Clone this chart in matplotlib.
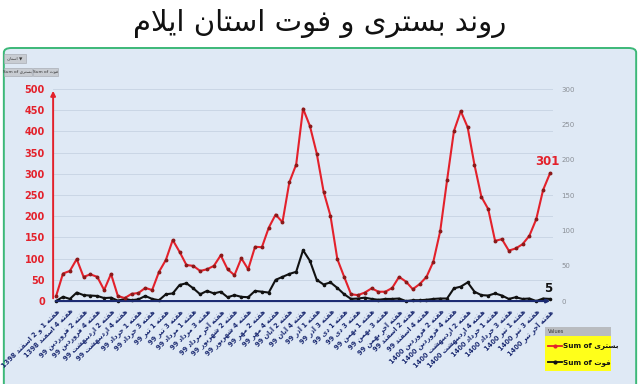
import matplotlib
matplotlib.use("Agg")
import matplotlib.pyplot as plt
from matplotlib.patches import FancyBboxPatch, Rectangle
from matplotlib.lines import Line2D

# --- data (weekly values) ---
bastari = [12, 65, 71, 99, 57, 63, 57, 26, 64, 12, 7, 17, 19, 31, 26, 69, 97, 144, 116, 85,
           83, 71, 75, 83, 108, 75, 61, 101, 75, 128, 127, 173, 204, 186, 280, 322, 454, 413,
           348, 258, 201, 99, 57, 16, 14, 20, 30, 22, 22, 31, 57, 46, 28, 40, 57, 93, 165, 285,
           401, 448, 410, 321, 246, 217, 142, 146, 119, 124, 134, 154, 193, 262, 301]
fot = [0, 10, 5, 20, 14, 13, 12, 7, 8, 1, 5, 2, 4, 12, 5, 2, 16, 18, 38, 42, 30, 16, 24, 18,
       22, 9, 14, 10, 9, 24, 22, 20, 50, 57, 64, 69, 120, 95, 50, 39, 44, 31, 16, 5, 6, 8, 5,
       3, 5, 5, 6, 0, 2, 2, 3, 5, 6, 6, 30, 34, 44, 22, 14, 13, 18, 13, 5, 9, 5, 6, 0, 6, 5]

week_labels = [
    "هفته 1 و 2 اسفند 1398", "هفته 4 اسفند 1398", "هفته 2 فروردین 99", "هفته 4 فروردین 99",
    "هفته 2 اردیبهشت 99", "هفته 4 اردیبهشت 99", "هفته 1 خرداد 99", "هفته 3 خرداد 99",
    "هفته 1 تیر 99", "هفته 3 تیر 99", "هفته 1 مرداد 99", "هفته 3 مرداد 99",
    "هفته آخر مرداد 99", "هفته 2 شهریور 99", "هفته 4 شهریور 99", "هفته 2 مهر 99",
    "هفته 4 مهر 99", "هفته 2 آبان 99", "هفته 4 آبان 99", "هفته 1 آذر 99", "هفته 3 آذر 99",
    "هفته 1 دی 99", "هفته 3 دی 99", "هفته 1 بهمن 99", "هفته 3 بهمن 99", "هفته آخر بهمن 99",
    "هفته 2 اسفند 99", "هفته 4 اسفند 99", "هفته 2 فروردین 1400", "هفته 4 فروردین 1400",
    "هفته 2 اردیبهشت 1400", "هفته 4 اردیبهشت 1400", "هفته 1 خرداد 1400",
    "هفته 3 خرداد 1400", "هفته 1 تیر 1400", "هفته 3 تیر 1400", "هفته آخر تیر 1400"]

title = "روند بستری و فوت استان ایلام"
name_b = "بستری"
name_f = "فوت"

# --- tiny persian shaper (matplotlib has no arabic shaping / bidi) ---
FORMS = {
    'ا': ('\uFE8D', '\uFE8E'), 'آ': ('\uFE81', '\uFE82'),
    'د': ('\uFEA9', '\uFEAA'), 'ذ': ('\uFEAB', '\uFEAC'),
    'ر': ('\uFEAD', '\uFEAE'), 'و': ('\uFEED', '\uFEEE'),
    'ب': ('\uFE8F', '\uFE90', '\uFE91', '\uFE92'),
    'ت': ('\uFE95', '\uFE96', '\uFE97', '\uFE98'),
    'خ': ('\uFEA5', '\uFEA6', '\uFEA7', '\uFEA8'),
    'س': ('\uFEB1', '\uFEB2', '\uFEB3', '\uFEB4'),
    'ش': ('\uFEB5', '\uFEB6', '\uFEB7', '\uFEB8'),
    'ف': ('\uFED1', '\uFED2', '\uFED3', '\uFED4'),
    'ق': ('\uFED5', '\uFED6', '\uFED7', '\uFED8'),
    'ل': ('\uFEDD', '\uFEDE', '\uFEDF', '\uFEE0'),
    'م': ('\uFEE1', '\uFEE2', '\uFEE3', '\uFEE4'),
    'ن': ('\uFEE5', '\uFEE6', '\uFEE7', '\uFEE8'),
    'ه': ('\uFEE9', '\uFEEA', '\uFEEB', '\uFEEC'),
    'ی': ('\uFBFC', '\uFBFD', '\uFBFE', '\uFBFF'),
}


def shape_word(w):
    out = []
    i = 0
    prev_joins = False
    while i < len(w):
        c = w[i]
        f = FORMS.get(c)
        if f is None:
            out.append(c)
            prev_joins = False
            i += 1
            continue
        if c == 'ل' and i + 1 < len(w) and w[i + 1] in 'اآ':
            lig = ('\uFEFB', '\uFEFC') if w[i + 1] == 'ا' else ('\uFEF5', '\uFEF6')
            out.append(lig[1] if prev_joins else lig[0])
            prev_joins = False
            i += 2
            continue
        next_ok = len(f) == 4 and i + 1 < len(w) and w[i + 1] in FORMS
        if len(f) == 2:
            out.append(f[1] if prev_joins else f[0])
            prev_joins = False
        else:
            if prev_joins and next_ok:
                out.append(f[3])
            elif prev_joins:
                out.append(f[1])
            elif next_ok:
                out.append(f[2])
            else:
                out.append(f[0])
            prev_joins = next_ok
        i += 1
    return ''.join(out)[::-1]


def fa(text):
    toks = text.split(' ')
    vis = [t if t.isdigit() else shape_word(t) for t in toks]
    return ' '.join(vis[::-1])


red = '#e3212b'
navy = '#1c2b72'
bg = '#dfe9f5'

fig = plt.figure(figsize=(6.4, 3.84), dpi=100)
fig.patch.set_facecolor('white')

box = FancyBboxPatch((0.006, -0.05), 0.988, 0.925, boxstyle="round,pad=0,rounding_size=0.012",
                     transform=fig.transFigure, facecolor=bg, edgecolor='#3cb878', lw=1.4,
                     zorder=-10)
fig.patches.append(box)

fig.text(0.5, 0.94, fa(title), ha='center', va='center', fontsize=21, color='#111111',
         family='DejaVu Sans')

# little pivot buttons at top left
for (x0, y0, w, h, s) in [(0.006, 0.835, 0.034, 0.024, fa("استان") + " ▼"),
                          (0.006, 0.802, 0.044, 0.022, "Sum of " + fa(name_b)),
                          (0.052, 0.802, 0.038, 0.022, "Sum of " + fa(name_f))]:
    fig.patches.append(Rectangle((x0, y0), w, h, transform=fig.transFigure,
                                 facecolor='#c8ccd2', edgecolor='#a0a4aa', lw=0.4, zorder=-5))
    fig.text(x0 + w / 2, y0 + h / 2, s, ha='center', va='center', fontsize=3.2, color='#333333')

ax = fig.add_axes([0.083, 0.216, 0.781, 0.552])
ax.set_facecolor('none')
x = list(range(len(bastari)))
ax.set_xlim(-0.44, len(x) - 1 + 0.44)
ax.set_ylim(0, 500)

ax.set_yticks(range(0, 501, 50))
ax.grid(axis='y', color='#c6d3e3', lw=0.6)
ax.set_axisbelow(True)
for s in ax.spines.values():
    s.set_visible(False)
ax.tick_params(axis='y', length=0, labelsize=7, labelcolor=red, pad=6)
for t in ax.get_yticklabels():
    t.set_fontweight('bold')

ax.set_xticks(x[::2])
ax.set_xticklabels([fa(s) for s in week_labels], rotation=45, ha='right',
                   rotation_mode='anchor', fontsize=4.8, color=navy, fontweight='bold')
ax.tick_params(axis='x', length=0, pad=5)

ax.plot(x, fot, color='#111111', lw=1.5, marker='o', ms=1.6, zorder=3, clip_on=False)
ax.plot(x, bastari, color=red, lw=1.5, marker='o', ms=1.8, mfc='#8b1a1a', mec='#8b1a1a',
        zorder=4, clip_on=False)

ax.annotate('', xy=(0, 1.005), xytext=(0, 0), xycoords='axes fraction',
            arrowprops=dict(arrowstyle='-|>', color=red, lw=1.4, mutation_scale=7))
ax.annotate('', xy=(1.0, 0), xytext=(0, 0), xycoords='axes fraction',
            arrowprops=dict(arrowstyle='-|>', color=navy, lw=1.5, mutation_scale=5))

ax.text(x[-1] - 0.4, bastari[-1] + 12, str(bastari[-1]), color=red, fontsize=8.5,
        fontweight='bold', ha='center', va='bottom')
ax.text(x[-1] - 0.2, fot[-1] + 10, str(fot[-1]), color='#111111', fontsize=8.5,
        fontweight='bold', ha='center', va='bottom')

ax2 = ax.twinx()
ax2.set_ylim(0, 300)
ax2.set_yticks(range(0, 301, 50))
for s in ax2.spines.values():
    s.set_visible(False)
ax2.tick_params(axis='y', length=0, labelsize=5, labelcolor='#8a8f96', pad=6)

# legend box
fig.patches.append(Rectangle((0.852, 0.033), 0.103, 0.115, transform=fig.transFigure,
                             facecolor='#ffff1a', edgecolor='none', zorder=5))
fig.patches.append(Rectangle((0.852, 0.124), 0.103, 0.024, transform=fig.transFigure,
                             facecolor='#b9bcc0', edgecolor='none', zorder=6))
fig.text(0.856, 0.136, "Values", fontsize=3.6, va='center', color='#333333', zorder=7)
for yy, col, nm in [(0.100, red, name_b), (0.057, '#111111', name_f)]:
    fig.lines.append(Line2D([0.856, 0.878], [yy, yy], transform=fig.transFigure, color=col,
                            lw=1.3, zorder=7))
    fig.lines.append(Line2D([0.867], [yy], transform=fig.transFigure, color=col,
                            marker='o', ms=2, zorder=8))
    fig.text(0.879, yy, "Sum of " + fa(nm), fontsize=5.2, va='center', color='#111111',
             fontweight='bold', zorder=8)

fig.savefig("out.png", dpi=100)
